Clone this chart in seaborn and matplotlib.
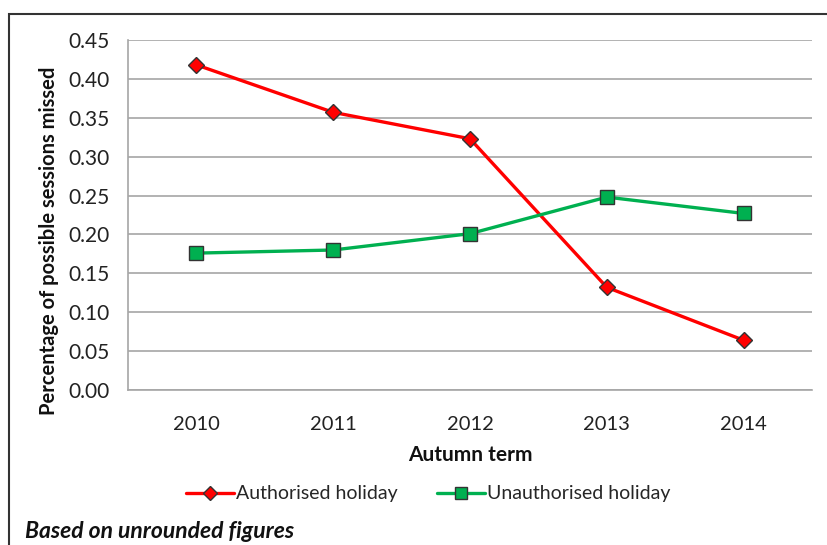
import matplotlib
matplotlib.use("Agg")
import matplotlib.pyplot as plt
import seaborn as sns
import pandas as pd
from matplotlib.patches import Rectangle
from matplotlib.lines import Line2D

years = ["2010", "2011", "2012", "2013", "2014"]
authorised = [0.418, 0.357, 0.323, 0.132, 0.064]
unauthorised = [0.176, 0.180, 0.201, 0.248, 0.227]
series_names = ["Authorised holiday", "Unauthorised holiday"]
y_ticks = [0.00, 0.05, 0.10, 0.15, 0.20, 0.25, 0.30, 0.35, 0.40, 0.45]

sns.set_style("white")
plt.rcParams["font.family"] = ["Lato", "DejaVu Sans"]

df = pd.DataFrame({
    "year": years * 2,
    "value": authorised + unauthorised,
    "series": [series_names[0]] * 5 + [series_names[1]] * 5,
})

fig = plt.figure(figsize=(8.27, 5.45), dpi=100)
ax = fig.add_axes([128 / 827, 1 - 390 / 545, (812 - 128) / 827, 350 / 545])

palette = {series_names[0]: "#ff0000", series_names[1]: "#00b050"}
markers = {series_names[0]: "D", series_names[1]: "s"}
sizes = {series_names[0]: 8, series_names[1]: 10}

for name in series_names:
    sub = df[df["series"] == name]
    sns.lineplot(data=sub, x="year", y="value", ax=ax, color=palette[name],
                 linewidth=2.4, marker=markers[name], markersize=sizes[name],
                 markeredgecolor="#333333", markeredgewidth=1.0,
                 legend=False, sort=False)

ax.set_xlim(-0.5, 4.5)
ax.set_ylim(0, 0.45)
ax.set_yticks(y_ticks)
ax.set_yticklabels([f"{v:.2f}" for v in y_ticks], fontsize=15, color="#222222")
ax.set_xticks(range(5))
ax.set_xticklabels(years, fontsize=14.5, color="#222222")
ax.set_xticks([-0.5, 0.5, 1.5, 2.5, 3.5, 4.5], minor=True)
ax.tick_params(axis="x", which="major", length=0, pad=19)
ax.tick_params(axis="x", which="minor", length=6, color="#999999", direction="out")
ax.tick_params(axis="y", which="major", length=6, color="#999999", direction="out", pad=7)
ax.yaxis.grid(True, color="#a6a6a6", linewidth=1.2)
ax.set_axisbelow(True)
for s in ["top", "right"]:
    ax.spines[s].set_visible(False)
for s in ["left", "bottom"]:
    ax.spines[s].set_color("#a6a6a6")
    ax.spines[s].set_linewidth(1.2)

ax.set_xlabel("Autumn term", fontsize=15, fontweight="bold", color="#111111")
ax.set_ylabel("Percentage of possible sessions missed", fontsize=14.5,
              fontweight="bold", color="#111111")
ax.xaxis.set_label_coords(0.5, -65 / 350)
ax.yaxis.set_label_coords(-79 / 684, 149 / 350)
ax.xaxis.label.set_va("center")
ax.yaxis.label.set_va("center")

handles = [Line2D([0], [0], color=palette[n], linewidth=2.4, marker=markers[n],
                  markersize=sizes[n] - 1, markeredgecolor="#333333")
           for n in series_names]
fig.legend(handles, series_names, loc="center", bbox_to_anchor=(428 / 827, 1 - 494 / 545),
           ncol=2, frameon=False, fontsize=14, handlelength=2.5, handletextpad=0.1,
           columnspacing=2.0)

fig.text(25 / 827, 1 - 531 / 545, "Based on unrounded figures", fontsize=16.5,
         fontweight="bold", fontstyle="italic", va="center", ha="left", color="#111111")

fig.patches.append(Rectangle((9 / 827, -0.1), 1.2, 1 - 14 / 545 + 0.1,
                             transform=fig.transFigure, fill=False,
                             edgecolor="#333333", linewidth=1.5))

fig.savefig("out.png", dpi=100)
